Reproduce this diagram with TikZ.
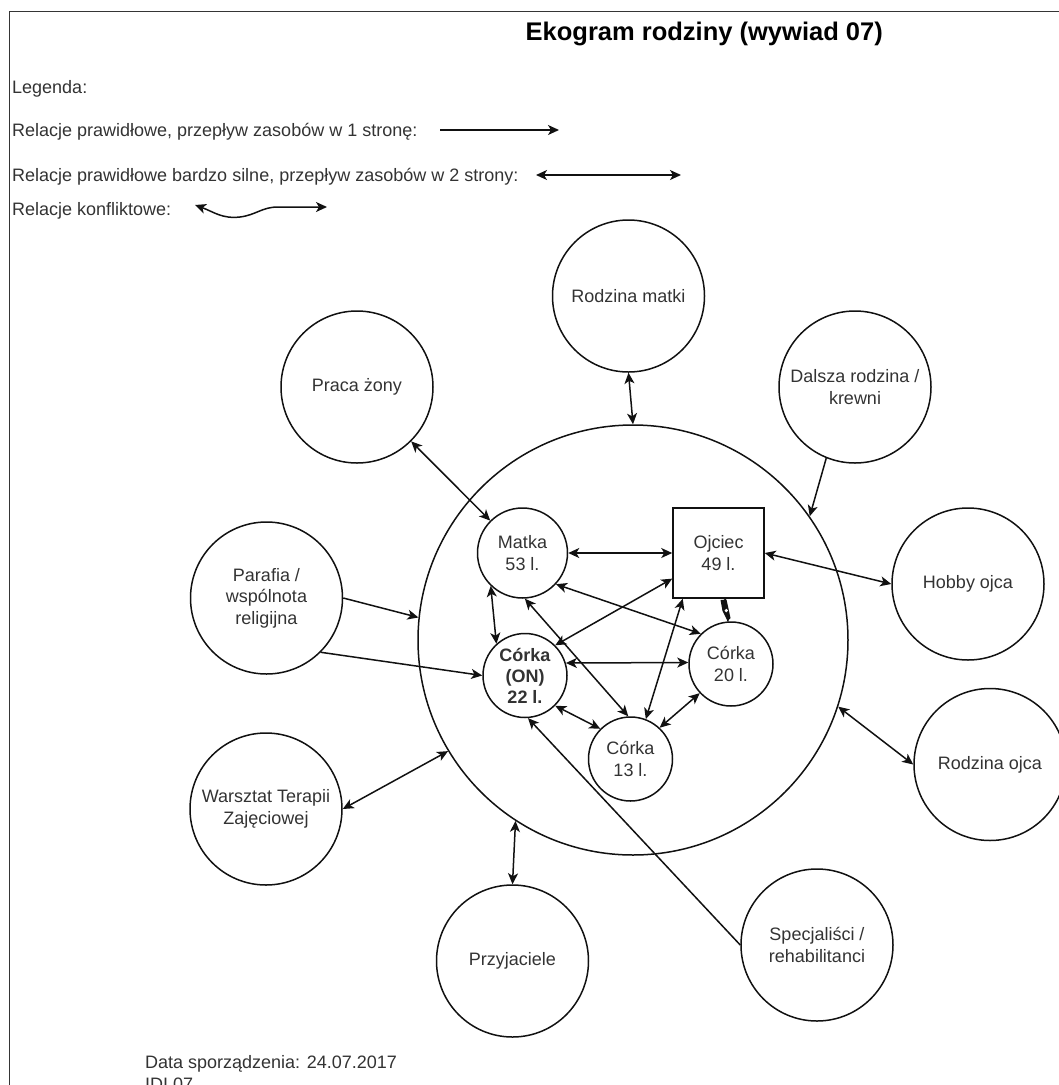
\documentclass[tikz,border=0pt]{standalone}
\usepackage{fontspec}
\setmainfont{Liberation Sans}
\usetikzlibrary{arrows.meta}
\definecolor{txt}{HTML}{333333}
\definecolor{ln}{HTML}{111111}
\begin{document}
\begin{tikzpicture}[x=1pt,y=-1pt,
  lbl/.style={font=\fontsize{18}{21.6}\selectfont, text=txt, align=center},
  circ/.style={draw=ln, line width=1.5pt, circle, minimum size=152pt, inner sep=0pt, lbl},
  member/.style={draw=ln, line width=1.5pt, circle, minimum size=84pt, inner sep=0pt, lbl},
  tipx/.tip={Stealth[length=11pt,width=10pt,inset=3pt]},
  link/.style={line width=1.5pt, draw=ln},
  both/.style={link, tipx-tipx},
  one/.style={link, -tipx},
  legtxt/.style={font=\fontsize{18}{21.6}\selectfont, text=txt, anchor=base west, inner sep=0pt}
]
\path[use as bounding box] (0,0) rectangle (1059,1085);
\clip (0,0) rectangle (1059,1085);

% frame
\draw[line width=1.5pt, draw=ln!85] (9.5,1090) -- (9.5,11.5) -- (1065,11.5);

% title
\node[anchor=base east, inner sep=0pt, font=\fontsize{25.5}{30}\selectfont\bfseries] (title) at (883,40) {Ekogram rodziny (wywiad 07)};

% legend
\node[legtxt] (leg0) at (12,93.5) {Legenda:};
\node[legtxt] (leg1) at (12,136.5) {Relacje prawidłowe, przepływ zasobów w 1 stronę:};
\node[legtxt] (leg2) at (12,181.5) {Relacje prawidłowe bardzo silne, przepływ zasobów w 2 strony:};
\node[legtxt] (leg3) at (12,215.5) {Relacje konfliktowe:};
\coordinate (l1a) at (440,130);
\coordinate (l1b) at (559,130);
\coordinate (l2a) at (536,175);
\coordinate (l2b) at (681,175);
\coordinate (l3a) at (195,205);
\coordinate (l3b) at (327,207);
\draw[one] (l1a) -- (l1b);
\draw[both] (l2a) -- (l2b);
\draw[both] (l3a) .. controls (214,212) and (222,219) .. (240,217) .. controls (256,215) and (262,207) .. (278,207) -- (l3b);

% big circle
\node[draw=ln, line width=1.5pt, circle, minimum size=430pt, inner sep=0pt] (C) at (633,640) {};

% outer circles
\node[circ] (RM) at (628.5,296) {Rodzina matki};
\node[circ] (PZ) at (357,387) {Praca żony};
\node[circ] (DR) at (855,387) {Dalsza rodzina /\\krewni};
\node[circ] (PA) at (266.5,598) {Parafia /\\wspólnota\\religijna};
\node[circ] (HO) at (968,584) {Hobby ojca};
\node[circ] (RO) at (990,764.5) {Rodzina ojca};
\node[circ] (WT) at (266,809) {Warsztat Terapii\\Zajęciowej};
\node[circ] (PR) at (512.5,961) {Przyjaciele};
\node[circ] (SP) at (817,945) {Specjaliści /\\rehabilitanci};

% family members
\node[member, minimum size=90pt] (M) at (522.5,553) {Matka\\53 l.};
\node[draw=ln, line width=1.5pt, rectangle, minimum width=91pt, minimum height=90pt, inner sep=0pt, lbl] (O) at (718.5,553) {Ojciec\\49 l.};
\node[member, font=\fontsize{18}{21}\selectfont\bfseries] (D) at (525,675.5) {Córka\\(ON)\\22 l.};
\node[member] (E) at (731,664) {Córka\\20 l.};
\node[member] (F) at (630.5,759) {Córka\\13 l.};

% outer connectors
\draw[both] (PZ) -- (M);
\draw[both] (RM.south) -- (C.north);
\draw[one] (DR.248.8) -- (C.35.7);
\draw[both] (O.east) -- (HO.west);
\draw[both] (C.-18.3) -- (RO.west);
\draw[one] (PA.east) -- (C.174.4);
\draw[one] (PA.-45) -- (D.west);
\draw[both] (WT.east) -- (C.211);
\draw[both] (PR.north) -- (C.237.2);
\draw[one] (SP.west) -- (D.-86);

% inner connectors
\draw[both] (M.east) -- (O.west);
\draw[both] (M.226) -- (D.132);
\draw[both] (M.-43) -- (E.135);
\draw[both] (M.-87) -- (F.93);
\draw[both] (O.209) -- (D.45);
\draw[both] (O.232) -- (F.69);
\draw[link] (O.-82) -- (E.94);
\fill[ln] (720.5,600) -- (726.5,599.5) -- (730.5,618) -- (727.5,621) -- (722.5,611) -- cycle;
\fill[white] (726.3,610.5) circle (1.8);
\draw[both] (D.17) -- (E.178);
\draw[both] (D.-45) -- (F.135);
\draw[both] (E.223) -- (F.47);

% footer
\node[legtxt] (data) at (145,1068.5) {Data sporządzenia: 24.07.2017};
\node[legtxt] (idi) at (145,1090) {IDI 07};
\end{tikzpicture}
\end{document}
